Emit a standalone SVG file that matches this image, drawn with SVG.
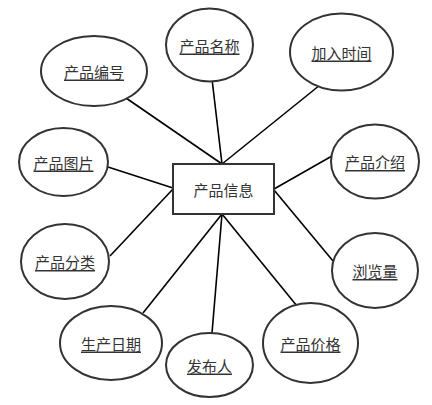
<svg xmlns="http://www.w3.org/2000/svg" width="432" height="405" viewBox="0 0 432 405">
<style>
.e{fill:#fff;stroke:#333;stroke-width:2}
.r{fill:#fff;stroke:#333;stroke-width:2}
.t{font-family:"Noto Sans CJK SC","Liberation Sans",sans-serif;font-size:15px;fill:#333;text-anchor:middle;dominant-baseline:central}
.u{text-decoration:underline}
.l{stroke:#000;stroke-width:1.6;fill:none}
</style>
<rect width="432" height="405" fill="#fff"/>
<g id="connectors">
<line class="l" x1="126" y1="98" x2="222" y2="164"/>
<line class="l" x1="212" y1="79" x2="222" y2="164"/>
<line class="l" x1="320" y1="85" x2="222" y2="164"/>
<line class="l" x1="108" y1="167" x2="173" y2="188"/>
<line class="l" x1="332" y1="156" x2="274" y2="189"/>
<line class="l" x1="110" y1="256" x2="173" y2="189"/>
<line class="l" x1="143" y1="313" x2="222" y2="214"/>
<line class="l" x1="333" y1="261" x2="274" y2="190"/>
<line class="l" x1="212" y1="333" x2="222" y2="214"/>
<line class="l" x1="297" y1="306" x2="222" y2="214"/>
</g>
<g id="main"><rect class="r" x="173" y="164" width="101" height="50"/><text class="t" x="223.5" y="189">产品信息</text></g>
<g id="n1"><ellipse class="e" cx="94" cy="71" rx="53" ry="35"/><text class="t u" x="94" y="71">产品编号</text></g>
<g id="n2"><ellipse class="e" cx="209.5" cy="45" rx="43.5" ry="36.5"/><text class="t u" x="209.5" y="45">产品名称</text></g>
<g id="n3"><ellipse class="e" cx="341.5" cy="52" rx="51.5" ry="38.5"/><text class="t u" x="341.5" y="52">加入时间</text></g>
<g id="n4"><ellipse class="e" cx="63.5" cy="162" rx="44.5" ry="34"/><text class="t u" x="63.5" y="162">产品图片</text></g>
<g id="n5"><ellipse class="e" cx="375" cy="161.5" rx="44" ry="37"/><text class="t u" x="375" y="161.5">产品介绍</text></g>
<g id="n6"><ellipse class="e" cx="65" cy="261.5" rx="44" ry="37.5"/><text class="t u" x="65" y="261.5">产品分类</text></g>
<g id="n7"><ellipse class="e" cx="375" cy="270.5" rx="43" ry="37.5"/><text class="t u" x="375" y="270.5">浏览量</text></g>
<g id="n8"><ellipse class="e" cx="111" cy="343" rx="51" ry="37"/><text class="t u" x="111" y="343">生产日期</text></g>
<g id="n9"><ellipse class="e" cx="209.5" cy="365" rx="43.5" ry="32"/><text class="t u" x="209.5" y="365">发布人</text></g>
<g id="n10"><ellipse class="e" cx="310.5" cy="343" rx="47.5" ry="40"/><text class="t u" x="310.5" y="343">产品价格</text></g>
</svg>
